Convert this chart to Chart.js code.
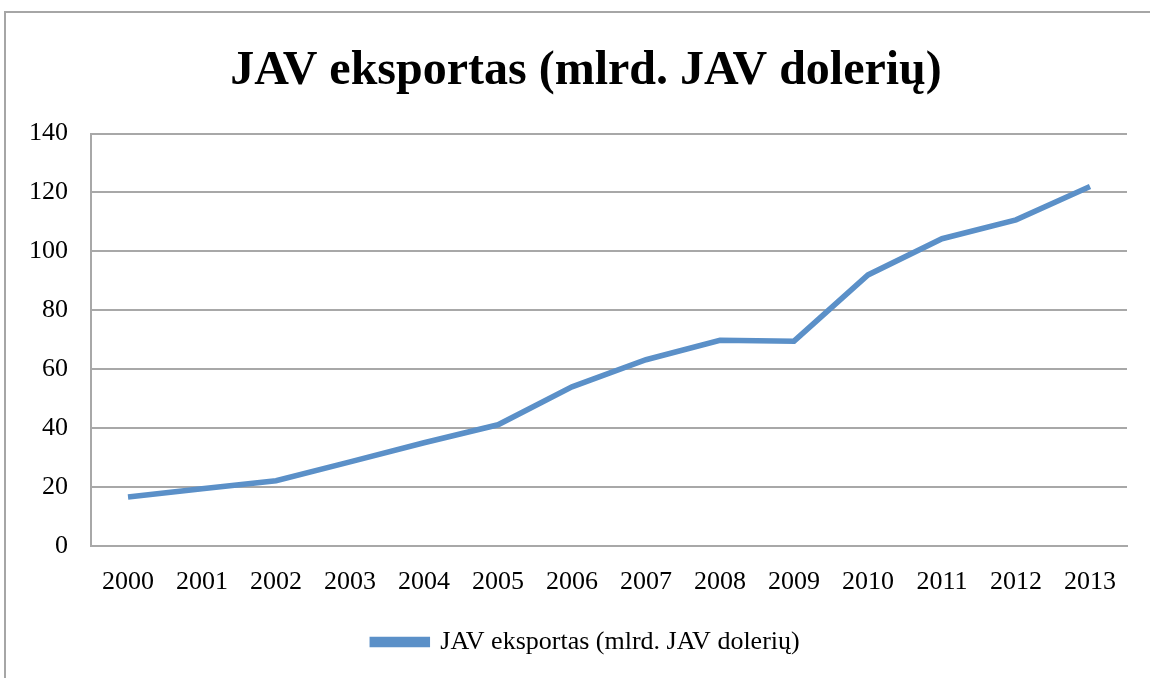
<!DOCTYPE html>
<html>
<head>
<meta charset="utf-8">
<script src="https://cdn.jsdelivr.net/npm/chart.js@4/dist/chart.umd.min.js"></script>
<style>
    html, body { margin: 0; padding: 0; background: #fff; overflow: hidden; }
    #wrap {
        position: absolute; left: 4px; top: 11px;
        width: 1164px; height: 680px;
        border: 2px solid #a6a6a6; box-sizing: border-box;
    }
    #chart { position: absolute; left: 0; top: 0; }
</style>
</head>
<body>
<div id="wrap"><canvas id="chart" width="1160" height="676"></canvas></div>
<script>
const years = ["2000", "2001", "2002", "2003", "2004", "2005", "2006", "2007", "2008", "2009", "2010", "2011", "2012", "2013"];
const exportValues = [16.6, 19.4, 22.1, 28.5, 35.0, 41.1, 54.0, 63.2, 69.8, 69.5, 92.0, 104.3, 110.7, 122.0];
const yTicks = [0, 20, 40, 60, 80, 100, 120, 140];
const seriesName = "JAV eksportas (mlrd. JAV dolerių)";
const titleText = "JAV eksportas (mlrd. JAV dolerių)";

const lineColor = "#5b90c8";
const gridColor = "#a8a8a8";
const serif = "Liberation Serif";

new Chart(document.getElementById("chart"), {
    type: "line",
    data: {
        labels: years,
        datasets: [{
            label: seriesName,
            data: exportValues,
            borderColor: lineColor,
            backgroundColor: lineColor,
            borderWidth: 5.5,
            pointRadius: 0,
            tension: 0,
            fill: false
        }]
    },
    options: {
        responsive: false,
        animation: false,
        layout: { padding: { left: 0, right: 0, top: 30, bottom: 24 } },
        plugins: {
            title: {
                display: true,
                text: titleText,
                color: "#000",
                font: { family: serif, size: 48, weight: "bold" },
                padding: { top: 0, bottom: 33 }
            },
            legend: {
                position: "bottom",
                labels: {
                    color: "#000",
                    font: { family: serif, size: 26 },
                    boxWidth: 55,
                    boxHeight: 5,
                    padding: 10
                }
            },
            tooltip: { enabled: false }
        },
        scales: {
            x: {
                offset: true,
                grid: { display: false, drawTicks: false },
                border: { display: true, color: gridColor, width: 2 },
                ticks: {
                    color: "#000",
                    font: { family: serif, size: 26 },
                    padding: 21,
                    maxRotation: 0
                }
            },
            y: {
                min: 0,
                max: 140,
                afterBuildTicks: axis => { axis.ticks = yTicks.map(v => ({ value: v })); },
                grid: { color: gridColor, lineWidth: 2, drawTicks: false },
                border: { display: true, color: gridColor, width: 2 },
                ticks: {
                    color: "#000",
                    font: { family: serif, size: 26 },
                    padding: 23
                }
            },
            // empty right-hand gap, keeps title and legend centred on the frame
            spacer: {
                type: "linear",
                position: "right",
                grid: { display: false, drawTicks: false },
                border: { display: false },
                ticks: { display: false },
                afterFit: axis => { axis.width = 39; }
            }
        }
    }
});
</script>
</body>
</html>
